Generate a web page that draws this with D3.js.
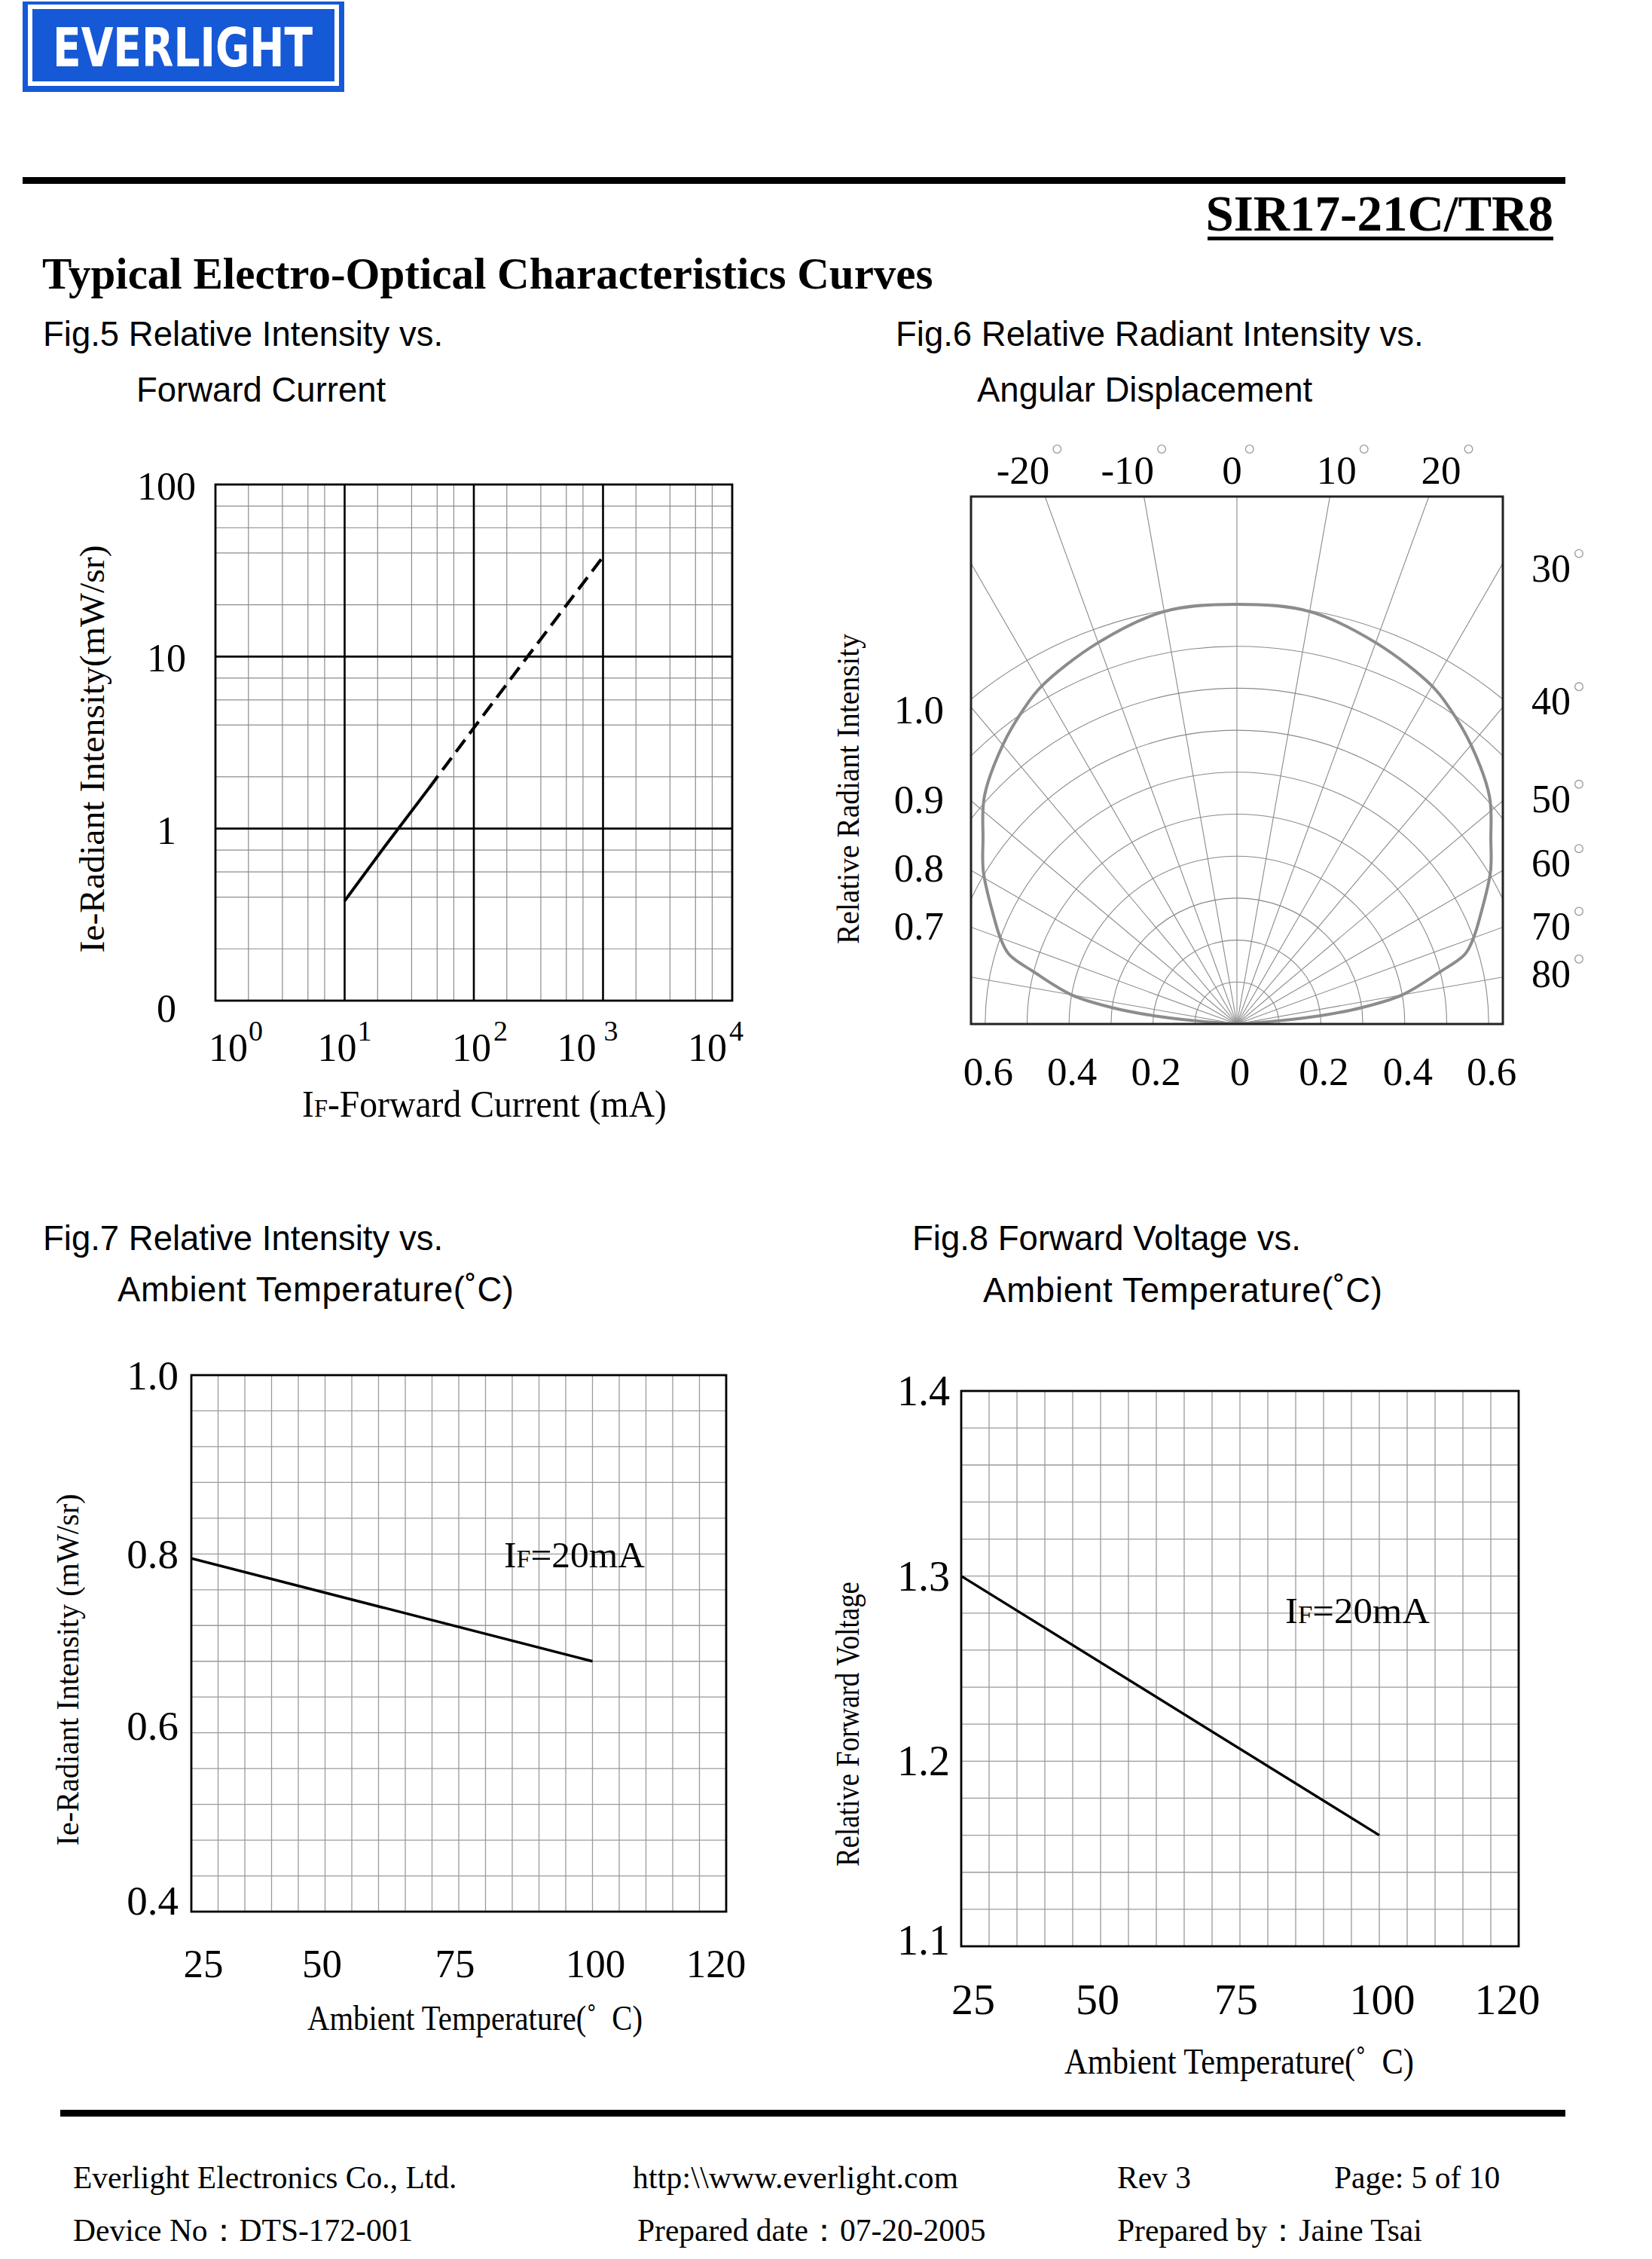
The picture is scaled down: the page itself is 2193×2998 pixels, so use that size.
<!DOCTYPE html>
<html>
<head>
<meta charset="utf-8">
<script src="https://cdn.jsdelivr.net/npm/d3@7"></script>
<style>
  body { margin: 0; background: #fff; }
  text { white-space: pre; }
</style>
</head>
<body>
<div id="page"></div>
<script>
// ---- Fig.5 : intensity vs forward current (log / log) ----
const fig5Solid = [[10, 0.38], [20, 0.77], [45, 1.72]];
const fig5Dashed = [[45, 1.72], [100, 3.85], [300, 11.5], [1000, 38]];
const fig5XTicks = [1, 10, 100, 1000, 10000];
const fig5XExp = ["0", "1", "2", "3", "4"];
const fig5YTicks = [0.1, 1, 10, 100];
const fig5YLabels = ["0", "1", "10", "100"];
const fig5MinorX = [1.8, 3.3, 5.2, 7];     // minor grid inside each decade
const fig5MinorY = [2, 4, 5.6, 7.5];

// ---- Fig.6 : radiation pattern ----
const fig6Angles = [-90, -85.5, -84.3, -82.5, -80, -75.6, -73, -70, -66, -59, -54, -48, -40, -34, -30, -20, -10,
  0, 10, 20, 30, 34, 40, 48, 54, 59, 66, 70, 73, 75.6, 80, 82.5, 84.3, 85.5, 90];
const fig6Values = [0, 0.10, 0.20, 0.30, 0.40, 0.50, 0.568, 0.60, 0.635, 0.705, 0.748, 0.81, 0.868, 0.907, 0.93, 0.967, 0.998,
  1.0, 0.998, 0.967, 0.93, 0.907, 0.868, 0.81, 0.748, 0.705, 0.635, 0.60, 0.568, 0.50, 0.40, 0.30, 0.20, 0.10, 0];
const fig6TopTicks = [-20, -10, 0, 10, 20];
const fig6RightTicks = [30, 40, 50, 60, 70, 80];
const fig6LeftTicks = [1.0, 0.9, 0.8, 0.7];
const fig6BottomTicks = [-0.6, -0.4, -0.2, 0, 0.2, 0.4, 0.6];

// ---- Fig.7 / Fig.8 : vs ambient temperature ----
const tempTicks = [25, 50, 75, 100, 120];
const fig7Temp = [25, 100];
const fig7Ie = [0.795, 0.68];
const fig7YTicks = [0.4, 0.6, 0.8, 1.0];
const fig8Temp = [25, 100];
const fig8Vf = [1.30, 1.16];
const fig8YTicks = [1.1, 1.2, 1.3, 1.4];

const W = 2193, H = 2998;
const serif = "'Liberation Serif','Times New Roman',serif";
const sans = "'Liberation Sans',Arial,sans-serif";

const svg = d3.select("#page").append("svg")
  .attr("width", W).attr("height", H);
svg.append("rect").attr("width", W).attr("height", H).attr("fill", "#fff");

function txt(g, x, y, s, size, fam, anchor) {
  return g.append("text")
    .attr("x", x).attr("y", y)
    .attr("font-family", fam || serif)
    .attr("font-size", size)
    .attr("text-anchor", anchor || "start")
    .attr("fill", "#000")
    .text(s);
}
function degRing(g, x, y) {
  g.append("circle").attr("cx", x).attr("cy", y).attr("r", 5.3)
    .attr("fill", "none").attr("stroke", "#999").attr("stroke-width", 1.3);
}

// ---------- header ----------
svg.append("rect").attr("x", 30).attr("y", 2).attr("width", 427).attr("height", 120).attr("fill", "#1659d6");
svg.append("rect").attr("x", 40).attr("y", 9).attr("width", 407).attr("height", 102)
  .attr("fill", "none").attr("stroke", "#fff").attr("stroke-width", 6);
svg.append("text").attr("x", 70).attr("y", 88)
  .attr("font-family", "'DejaVu Sans',sans-serif").attr("font-weight", "bold")
  .attr("font-size", 72).attr("fill", "#fff")
  .attr("textLength", 345).attr("lengthAdjust", "spacingAndGlyphs")
  .text("EVERLIGHT");

svg.append("rect").attr("x", 30).attr("y", 235).attr("width", 2048).attr("height", 9).attr("fill", "#000");
txt(svg, 2062, 306, "SIR17-21C/TR8", 67, serif, "end").attr("font-weight", "bold");
svg.append("rect").attr("x", 1603).attr("y", 314).attr("width", 459).attr("height", 5).attr("fill", "#000");
txt(svg, 56, 383, "Typical Electro-Optical Characteristics Curves", 59).attr("font-weight", "bold");

// figure titles
txt(svg, 57, 459, "Fig.5 Relative Intensity vs.", 45.5, sans);
txt(svg, 181, 533, "Forward Current", 45.5, sans);
txt(svg, 1189, 459, "Fig.6 Relative Radiant Intensity vs.", 45.5, sans);
txt(svg, 1297, 533, "Angular Displacement", 45.5, sans);
txt(svg, 57, 1659, "Fig.7 Relative Intensity vs.", 45.5, sans);
txt(svg, 156, 1727, "Ambient Temperature(\u02DAC)", 45.5, sans)
  .attr("textLength", 526).attr("lengthAdjust", "spacing");
txt(svg, 1211, 1659, "Fig.8 Forward Voltage vs.", 45.5, sans);
txt(svg, 1305, 1728, "Ambient Temperature(\u02DAC)", 45.5, sans)
  .attr("textLength", 530).attr("lengthAdjust", "spacing");

// ---------- Fig.5 ----------
{
  const L = 286, R = 972, T = 643, B = 1328;
  const x = d3.scaleLog().domain([1, 10000]).range([L, R]);
  const y = d3.scaleLog().domain([0.1, 100]).range([B, T]);
  const g = svg.append("g");

  const decX = [1, 10, 100, 1000];
  const decY = [0.1, 1, 10];
  const minX = decX.flatMap(d => fig5MinorX.map(m => d * m));
  const minY = decY.flatMap(d => fig5MinorY.map(m => d * m));

  g.selectAll(".mx").data(minX).enter().append("line")
    .attr("x1", d => x(d)).attr("x2", d => x(d)).attr("y1", T).attr("y2", B)
    .attr("stroke", "#8c8c8c").attr("stroke-width", 1.2);
  g.selectAll(".my").data(minY).enter().append("line")
    .attr("y1", d => y(d)).attr("y2", d => y(d)).attr("x1", L).attr("x2", R)
    .attr("stroke", "#8c8c8c").attr("stroke-width", 1.2);

  g.selectAll(".Mx").data([10, 100, 1000]).enter().append("line")
    .attr("x1", d => x(d)).attr("x2", d => x(d)).attr("y1", T).attr("y2", B)
    .attr("stroke", "#000").attr("stroke-width", 2.6);
  g.selectAll(".My").data([1, 10]).enter().append("line")
    .attr("y1", d => y(d)).attr("y2", d => y(d)).attr("x1", L).attr("x2", R)
    .attr("stroke", "#000").attr("stroke-width", 2.6);
  g.append("rect").attr("x", L).attr("y", T).attr("width", R - L).attr("height", B - T)
    .attr("fill", "none").attr("stroke", "#000").attr("stroke-width", 2.8);

  const line = d3.line().x(d => x(d[0])).y(d => y(d[1]));
  g.append("path").datum(fig5Solid).attr("d", line)
    .attr("fill", "none").attr("stroke", "#000").attr("stroke-width", 4);
  g.append("path").datum(fig5Dashed).attr("d", line)
    .attr("fill", "none").attr("stroke", "#000").attr("stroke-width", 4.2)
    .attr("stroke-dasharray", "20 10");

  // y tick labels
  const yDy = [28, 20, 20, 20];
  fig5YTicks.forEach((v, i) => txt(g, 221, y(v) + yDy[i], fig5YLabels[i], 52, serif, "middle"));

  // x tick labels 10^n
  const baseDx = [17, -10, -3, -35, -33];
  const expDx = [1, 1, 3, 10, 3];
  fig5XTicks.forEach((v, i) => {
    const cx = x(v) + baseDx[i];
    txt(g, cx, 1408, "10", 52, serif, "middle");
    txt(g, cx + 26 + expDx[i], 1381, fig5XExp[i], 38, serif, "start");
  });

  // axis titles
  const xt = g.append("text").attr("x", 401).attr("y", 1482)
    .attr("font-family", serif).attr("font-size", 50)
    .attr("textLength", 484).attr("lengthAdjust", "spacingAndGlyphs");
  xt.append("tspan").text("I");
  xt.append("tspan").attr("font-size", 34).text("F");
  xt.append("tspan").text("-Forward Current (mA)");

  g.append("text").attr("transform", "translate(138,994) rotate(-90)")
    .attr("text-anchor", "middle").attr("font-family", serif).attr("font-size", 46)
    .attr("textLength", 541).attr("lengthAdjust", "spacingAndGlyphs")
    .text("Ie-Radiant Intensity(mW/sr)");
}

// ---------- Fig.6 ----------
{
  const L = 1289, R = 1995, T = 659, B = 1359;
  const cx = (L + R) / 2, cy = B;
  const r = d3.scaleLinear().domain([0, 1]).range([0, 557]);
  const g = svg.append("g");

  svg.append("clipPath").attr("id", "clip6")
    .append("rect").attr("x", L).attr("y", T).attr("width", R - L).attr("height", B - T);

  const grid = g.append("g").attr("clip-path", "url(#clip6)");
  const rings = d3.range(1, 11).map(k => k / 10);
  grid.selectAll("circle").data(rings).enter().append("circle")
    .attr("cx", cx).attr("cy", cy).attr("r", d => r(d))
    .attr("fill", "none").attr("stroke", "#8a8a8a").attr("stroke-width", 1.1);
  const spokes = d3.range(-90, 91, 10);
  grid.selectAll("line").data(spokes).enter().append("line")
    .attr("x1", cx).attr("y1", cy)
    .attr("x2", d => cx + r(1.4) * Math.sin(d * Math.PI / 180))
    .attr("y2", d => cy - r(1.4) * Math.cos(d * Math.PI / 180))
    .attr("stroke", "#8a8a8a").attr("stroke-width", 1.1);

  const pattern = fig6Angles.map((a, i) => [a, fig6Values[i]]);
  const radial = d3.lineRadial()
    .angle(d => d[0] * Math.PI / 180)
    .radius(d => r(d[1]))
    .curve(d3.curveCatmullRom.alpha(0.5));
  grid.append("path").datum(pattern).attr("d", radial)
    .attr("transform", `translate(${cx},${cy})`)
    .attr("fill", "none").attr("stroke", "#8c8c8c").attr("stroke-width", 4);

  g.append("rect").attr("x", L).attr("y", T).attr("width", R - L).attr("height", B - T)
    .attr("fill", "none").attr("stroke", "#222").attr("stroke-width", 3);

  // top angle labels
  const topX = d3.scaleLinear().domain([-20, 20]).range([1358, 1913]);
  fig6TopTicks.forEach(a => {
    const t = txt(g, topX(a), 642, String(a), 53, serif, "middle");
    const w = t.node().getComputedTextLength();
    degRing(g, topX(a) + w / 2 + 10, 596);
  });

  // right angle labels, next to where each spoke meets the right border
  const halfW = R - cx;
  const rDy = [24, 10, 15, 8, 16, 13];
  fig6RightTicks.forEach((a, i) => {
    const yy = cy - halfW / Math.tan(a * Math.PI / 180) + rDy[i];
    const t = txt(g, 2033, yy, String(a), 52, serif, "start");
    const w = t.node().getComputedTextLength();
    degRing(g, 2033 + w + 11, yy - 37);
  });

  // left intensity labels, below where each ring meets the left border
  const lDy = [32, 76, 83, 54];
  fig6LeftTicks.forEach((v, i) => {
    const rr = r(v);
    const yy = cy - Math.sqrt(Math.max(rr * rr - halfW * halfW, 0)) + lDy[i];
    txt(g, 1253, yy, d3.format(".1f")(v), 53, serif, "end");
  });

  // bottom radius labels
  fig6BottomTicks.forEach(v => {
    const lab = v === 0 ? "0" : d3.format(".1f")(Math.abs(v));
    txt(g, cx + Math.sign(v) * r(Math.abs(v)) + 4, 1440, lab, 53, serif, "middle");
  });

  g.append("text").attr("transform", "translate(1140,1047) rotate(-90)")
    .attr("text-anchor", "middle").attr("font-family", serif).attr("font-size", 42)
    .attr("textLength", 412).attr("lengthAdjust", "spacingAndGlyphs")
    .text("Relative Radiant Intensity");
}

// ---------- Fig.7 & Fig.8 ----------
function tempChart(o) {
  const g = svg.append("g");
  const x = d3.scaleLinear().domain([25, 125]).range([o.L, o.R]);
  const y = d3.scaleLinear().domain(o.yDomain).range([o.B, o.T]);
  const vGrid = d3.range(30, 125, 5);
  const hGrid = d3.range(1, 15).map(i => o.yDomain[0] + i * o.yStep);

  g.selectAll(".v").data(vGrid).enter().append("line")
    .attr("x1", d => x(d)).attr("x2", d => x(d)).attr("y1", o.T).attr("y2", o.B)
    .attr("stroke", "#9a9a9a").attr("stroke-width", 1.3);
  g.selectAll(".h").data(hGrid).enter().append("line")
    .attr("y1", d => y(d)).attr("y2", d => y(d)).attr("x1", o.L).attr("x2", o.R)
    .attr("stroke", "#9a9a9a").attr("stroke-width", 1.3);
  g.append("rect").attr("x", o.L).attr("y", o.T).attr("width", o.R - o.L).attr("height", o.B - o.T)
    .attr("fill", "none").attr("stroke", "#000").attr("stroke-width", 2.8);

  const pts = o.xs.map((t, i) => [t, o.ys[i]]);
  g.append("path").datum(pts)
    .attr("d", d3.line().x(d => x(d[0])).y(d => y(d[1])))
    .attr("fill", "none").attr("stroke", "#000").attr("stroke-width", 3.4);

  o.yTicks.forEach((v, i) => txt(g, o.yLabX, y(v) + 19 + o.yDy[i], d3.format(".1f")(v), o.yFont, serif, "end"));
  const dx = [16, -4, -5, 4, 22];
  tempTicks.forEach((v, i) => txt(g, x(v) + dx[i], o.xLabY, String(v), o.xFont, serif, "middle"));

  const lab = g.append("text").attr("x", o.ifX).attr("y", o.ifY)
    .attr("font-family", serif).attr("font-size", 48)
    .attr("textLength", o.ifW).attr("lengthAdjust", "spacingAndGlyphs");
  lab.append("tspan").text("I");
  lab.append("tspan").attr("font-size", 33).text("F");
  lab.append("tspan").text("=20mA");

  g.append("text").attr("x", o.xtX).attr("y", o.xtY)
    .attr("font-family", serif).attr("font-size", o.xtFont)
    .attr("textLength", o.xtW).attr("lengthAdjust", "spacingAndGlyphs")
    .text("Ambient Temperature(\u02DA\u00a0\u00a0C)");
  g.append("text").attr("transform", `translate(${o.ytX},${o.ytY}) rotate(-90)`)
    .attr("text-anchor", "middle").attr("font-family", serif).attr("font-size", o.ytFont)
    .attr("textLength", o.ytW).attr("lengthAdjust", "spacingAndGlyphs")
    .text(o.yTitle);
}

tempChart({
  L: 254, R: 964, T: 1825, B: 2537,
  yDomain: [0.4, 1.0], yStep: 0.04, xs: fig7Temp, ys: fig7Ie, yTicks: fig7YTicks, yDy: [-15, -10, 0, 0],
  yLabX: 237, yFont: 55, xLabY: 2624, xFont: 53,
  ifX: 669, ifY: 2080, ifW: 187,
  xtX: 408, xtY: 2694, xtW: 445, xtFont: 46,
  ytX: 104, ytY: 2216, ytW: 467, ytFont: 42,
  yTitle: "Ie-Radiant Intensity (mW/sr)"
});
tempChart({
  L: 1276, R: 2016, T: 1846, B: 2583,
  yDomain: [1.1, 1.4], yStep: 0.02, xs: fig8Temp, ys: fig8Vf, yTicks: fig8YTicks, yDy: [-8, 0, 0, 0],
  yLabX: 1261, yFont: 56, xLabY: 2673, xFont: 58,
  ifX: 1706, ifY: 2154, ifW: 192,
  xtX: 1413, xtY: 2752, xtW: 464, xtFont: 48,
  ytX: 1140, ytY: 2288, ytW: 378, ytFont: 44,
  yTitle: "Relative Forward Voltage"
});

// ---------- footer ----------
svg.append("rect").attr("x", 80).attr("y", 2800).attr("width", 1998).attr("height", 9).attr("fill", "#000");
const fs = 41.5;
txt(svg, 97, 2904, "Everlight Electronics Co., Ltd.", fs);
txt(svg, 840, 2904, "http:\\\\www.everlight.com", fs)
  .attr("textLength", 432).attr("lengthAdjust", "spacing");
txt(svg, 1483, 2904, "Rev 3", fs);
txt(svg, 1771, 2904, "Page: 5 of 10", fs);
txt(svg, 97, 2974, "Device No\uFF1ADTS-172-001", fs);
txt(svg, 846, 2974, "Prepared date\uFF1A07-20-2005", fs);
txt(svg, 1483, 2974, "Prepared by\uFF1AJaine Tsai", fs);
</script>
</body>
</html>
